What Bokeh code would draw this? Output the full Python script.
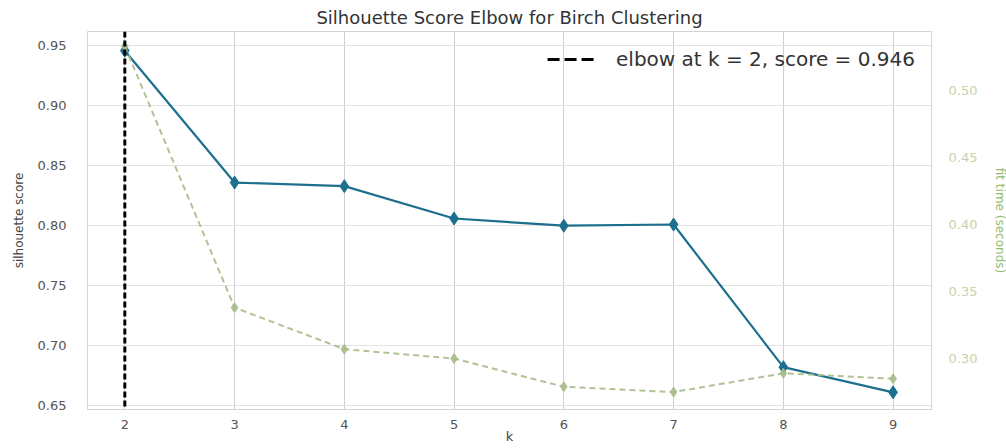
from bokeh.plotting import figure
from bokeh.models import (Range1d, LinearAxis, FixedTicker, Span, Legend, LegendItem,
                          ColumnDataSource, NumeralTickFormatter)
from bokeh.embed import file_html
from bokeh.resources import INLINE

# ---- data ----
k_values = [2, 3, 4, 5, 6, 7, 8, 9]
silhouette_scores = [0.946, 0.836, 0.833, 0.806, 0.800, 0.801, 0.682, 0.661]
fit_times = [0.533, 0.338, 0.307, 0.300, 0.279, 0.275, 0.289, 0.285]
elbow_k = 2
elbow_score = 0.946
left_ticks = [0.65, 0.70, 0.75, 0.80, 0.85, 0.90, 0.95]
right_ticks = [0.30, 0.35, 0.40, 0.45, 0.50]

FONT = "DejaVu Sans"
BLUE = "#1d6f8e"
GREEN = "#a9bd8b"

src = ColumnDataSource(dict(k=k_values, s=silhouette_scores, t=fit_times))

y_lo, y_hi = 0.6467, 0.962
p = figure(frame_width=844, frame_height=378, output_backend="svg", toolbar_location=None,
           x_range=Range1d(1.66, 9.35), y_range=Range1d(y_lo, y_hi),
           min_border_left=87, min_border_right=59, min_border_top=28, min_border_bottom=26,
           title="Silhouette Score Elbow for Birch Clustering")
p.extra_y_ranges = {"fit": Range1d(0.262, 0.544)}

p.title.align = "center"
p.title.text_font = FONT
p.title.text_font_size = "18px"
p.title.text_font_style = "normal"
p.title.text_color = "#333333"
p.title.offset = 0
p.title.standoff = 8

p.outline_line_color = "#d4d4d4"
p.background_fill_color = "white"
p.border_fill_color = "white"

# grids
p.xgrid.ticker = FixedTicker(ticks=k_values)
p.ygrid.ticker = FixedTicker(ticks=left_ticks)
p.xgrid.grid_line_color = "#cfcfcf"
p.ygrid.grid_line_color = "#e2e2e2"

# axes
p.xaxis.ticker = FixedTicker(ticks=k_values)
p.yaxis.ticker = FixedTicker(ticks=left_ticks)
p.yaxis.formatter = NumeralTickFormatter(format="0.00")
for ax in (p.xaxis[0], p.yaxis[0]):
    ax.axis_line_color = None
    ax.major_tick_line_color = None
    ax.minor_tick_line_color = None
    ax.major_label_text_font = FONT
    ax.major_label_text_font_size = "13px"
    ax.major_label_text_color = "#555555"
    ax.axis_label_text_font = FONT
    ax.axis_label_text_font_style = "normal"
    ax.axis_label_text_color = "#444444"
p.xaxis.axis_label = "k"
p.xaxis.major_label_standoff = 4
p.xaxis.axis_label_standoff = -3
p.xaxis.axis_label_text_font_size = "13px"
p.yaxis.axis_label = "silhouette score"
p.yaxis.major_label_standoff = 15
p.yaxis.axis_label_standoff = 9
p.yaxis.axis_label_text_font_size = "12px"

right = LinearAxis(y_range_name="fit", ticker=FixedTicker(ticks=right_ticks),
                   formatter=NumeralTickFormatter(format="0.00"),
                   axis_label="fit time (seconds)")
right.axis_line_color = None
right.major_tick_line_color = None
right.minor_tick_line_color = None
right.major_label_text_font = FONT
right.major_label_text_font_size = "13px"
right.major_label_text_color = "#c9d2ad"
right.major_label_standoff = 11
right.axis_label_text_font = FONT
right.axis_label_text_font_size = "12px"
right.axis_label_text_font_style = "normal"
right.axis_label_text_color = "#92bd6e"
right.axis_label_standoff = 13
p.add_layout(right, "right")

# silhouette score
p.line("k", "s", source=src, line_color=BLUE, line_width=2.2)
p.scatter("k", "s", source=src, marker="diamond", size=13, fill_color=BLUE, line_color=BLUE)

# fit time
p.line("k", "t", source=src, y_range_name="fit", line_color=GREEN, line_width=2,
       line_dash="6 4", line_alpha=0.9)
p.scatter("k", "t", source=src, y_range_name="fit", marker="diamond", size=10,
          fill_color=GREEN, line_color=GREEN, alpha=0.9)

# elbow line
elbow = Span(location=elbow_k, dimension="height", line_color="black",
             line_width=3, line_dash="6 3")
p.add_layout(elbow)

# legend (zero-length proxy line at the elbow point)
legend_glyph = p.line(x=[elbow_k, elbow_k], y=[elbow_score, elbow_score],
                      line_color="black", line_width=3, line_dash="12 5")
legend = Legend(items=[LegendItem(label=f"elbow at k = {elbow_k}, score = {elbow_score:.3f}",
                                  renderers=[legend_glyph])],
                location="top_right", border_line_color=None,
                background_fill_alpha=0.0, label_text_font=FONT,
                label_text_font_size="20px", label_text_color="#333333",
                glyph_width=47, label_standoff=22, margin=16, padding=5, spacing=0)
p.add_layout(legend)

open("out.html", "w").write(file_html(p, INLINE))
